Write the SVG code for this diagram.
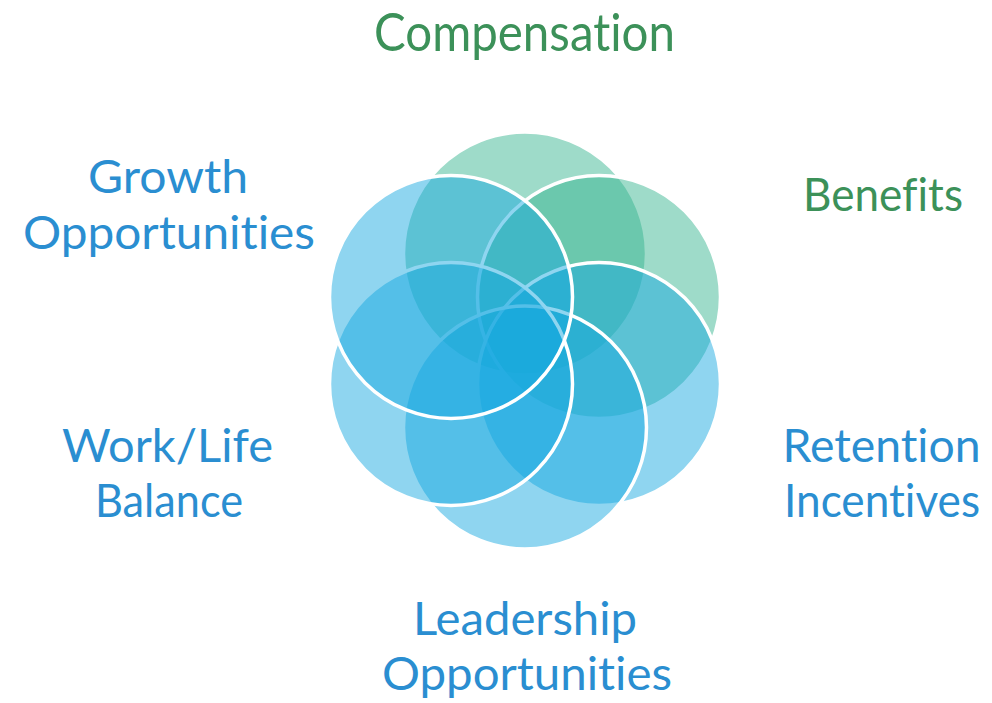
<svg xmlns="http://www.w3.org/2000/svg" width="992" height="703" viewBox="0 0 992 703">
  <style>
    .petal { stroke: #ffffff; stroke-width: 3.5; fill-opacity: 0.48; }
    .green { fill: #35B48E; }
    .blue { fill: #14A7E0; }
    .label { font-family: Lato, "Open Sans", "Liberation Sans", sans-serif; font-size: 47px; text-anchor: middle; font-variant-ligatures: none; font-feature-settings: "liga" 0; }
    .lg { fill: #3C9159; }
    .lb { fill: #2A8ED1; }
  </style>
  <rect width="992" height="703" fill="#ffffff"/>
  <g id="compensation">
    <circle class="petal green" cx="525" cy="253.5" r="121.5"/>
    <text class="label lg" x="524.5" y="51" style="font-size:53px" textLength="301" lengthAdjust="spacingAndGlyphs">Compensation</text>
  </g>
  <g id="benefits">
    <circle class="petal green" cx="599" cy="297" r="121.5"/>
    <text class="label lg" x="883" y="211" textLength="160" lengthAdjust="spacingAndGlyphs">Benefits</text>
  </g>
  <g id="retention">
    <circle class="petal blue" cx="599" cy="384" r="121.5"/>
    <text class="label lb" x="881.5" y="462" textLength="198" lengthAdjust="spacingAndGlyphs">Retention</text>
    <text class="label lb" x="882" y="517" textLength="196" lengthAdjust="spacingAndGlyphs">Incentives</text>
  </g>
  <g id="leadership">
    <circle class="petal blue" cx="525" cy="427.5" r="121.5"/>
    <text class="label lb" x="525" y="635" textLength="224" lengthAdjust="spacingAndGlyphs">Leadership</text>
    <text class="label lb" x="527" y="690" textLength="290" lengthAdjust="spacingAndGlyphs">Opportunities</text>
  </g>
  <g id="worklife">
    <circle class="petal blue" cx="451" cy="384" r="121.5"/>
    <text class="label lb" x="167.5" y="462" textLength="211" lengthAdjust="spacingAndGlyphs">Work/Life</text>
    <text class="label lb" x="169" y="517" textLength="148" lengthAdjust="spacingAndGlyphs">Balance</text>
  </g>
  <g id="growth">
    <circle class="petal blue" cx="451" cy="297" r="121.5"/>
    <text class="label lb" x="168" y="193" textLength="160" lengthAdjust="spacingAndGlyphs">Growth</text>
    <text class="label lb" x="169" y="249" textLength="292" lengthAdjust="spacingAndGlyphs">Opportunities</text>
  </g>
</svg>
